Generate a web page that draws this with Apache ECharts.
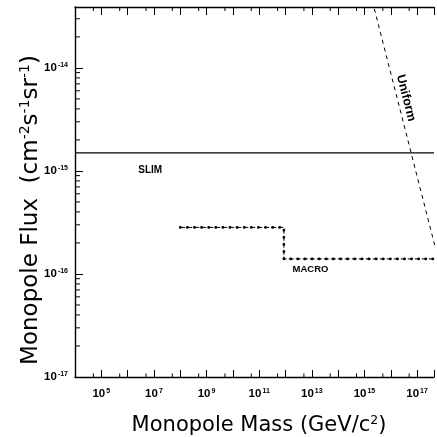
<!DOCTYPE html>
<html><head><meta charset="utf-8">
<script src="https://cdn.jsdelivr.net/npm/echarts@6/dist/echarts.min.js"></script>
<style>html,body{margin:0;padding:0;background:#fff}#c{width:437px;height:437px}</style>
</head><body><div id="c"></div>
<script>
// axis ranges
const xMin = 1e4, xMax = 4.4e17, yMin = 1e-17, yMax = 3.9e-14;
// tick labels (exponents of 10)
const xLabelExps = [5, 7, 9, 11, 13, 15, 17];
const yLabelExps = [-17, -16, -15, -14];
// minor tick values
const xMinorTicks = [5e4, 5e5, 5e6, 5e7, 5e8, 5e9, 5e10, 5e11, 5e12, 5e13, 5e14, 5e15, 5e16];
const yMinorTicks = [2e-17, 3e-17, 4e-17, 5e-17, 6e-17, 7e-17, 8e-17, 9e-17,
                     2e-16, 3e-16, 4e-16, 5e-16, 6e-16, 7e-16, 8e-16, 9e-16,
                     2e-15, 3e-15, 4e-15, 5e-15, 6e-15, 7e-15, 8e-15, 9e-15,
                     2e-14, 3e-14];
// series
const slimMass = [1e4, 4.4e17];
const slimFlux = [1.5e-15, 1.5e-15];
const macroMass = [1e8, 8.7e11, 8.7e11, 4.4e17];
const macroFlux = [2.83e-16, 2.83e-16, 1.4e-16, 1.4e-16];
const uniformMass = [1e15, 1e18];
const uniformFlux = [8.9e-14, 8.9e-17];
// label anchors (data coordinates)
const slimLabel = ['SLIM', 7.2e6, 1.02e-15];
const macroLabel = ['MACRO', 8.9e12, 1.12e-16];
const uniformLabel = ['Uniform', 3.8e16, 5.1e-15];

const zip = (a, b) => a.map((v, i) => [v, b[i]]);
const FONT = 'Liberation Sans, Arial, sans-serif';
const TITLEFONT = 'DejaVu Sans, sans-serif';

function expFormatter(list) {
  return function (val) {
    const e = Math.log10(val), r = Math.round(e);
    if (Math.abs(e - r) > 1e-6 || list.indexOf(r) < 0) return '';
    return '{base|10}{sup|' + r + '}';
  };
}
const labelRich = {
  base: { fontSize: 11.5, fontFamily: FONT, fontWeight: 'bold', color: '#000' },
  sup: { fontSize: 7, fontFamily: FONT, fontWeight: 'bold', color: '#000', padding: [0, 0, 5, 1] }
};

function tickSeries(data, kind, len) {
  return {
    type: 'custom', silent: true, clip: false, z: 10, animation: false,
    data: data,
    renderItem: function (params, api) {
      const p = api.coord([api.value(0), api.value(1)]);
      let s;
      if (kind === 'bottom') s = { x1: p[0], y1: p[1], x2: p[0], y2: p[1] - len };
      else if (kind === 'top') s = { x1: p[0], y1: p[1], x2: p[0], y2: p[1] + len };
      else s = { x1: p[0], y1: p[1], x2: p[0] + len, y2: p[1] };
      return { type: 'line', shape: s, style: { stroke: '#000', lineWidth: 1 } };
    }
  };
}

const chart = echarts.init(document.getElementById('c'), null, { renderer: 'canvas' });
const axisCommon = {
  type: 'log', logBase: 10,
  axisLine: { show: true, onZero: false, lineStyle: { color: '#000', width: 1.4 } },
  splitLine: { show: false },
  minorTick: { show: false }
};
chart.setOption({
  animation: false,
  backgroundColor: '#fff',
  grid: { left: 75, right: 0, top: 7, bottom: 60, containLabel: false },
  xAxis: [
    Object.assign({}, axisCommon, {
      min: xMin, max: xMax, position: 'bottom', interval: 1,
      axisTick: { show: true, inside: true, length: 7, lineStyle: { color: '#000', width: 1 } },
      axisLabel: { show: true, interval: 0, margin: 11, fontSize: 11.5, formatter: expFormatter(xLabelExps), rich: labelRich }
    }),
    Object.assign({}, axisCommon, {
      min: xMin, max: xMax, position: 'top', interval: 1,
      axisTick: { show: true, inside: true, length: 8, lineStyle: { color: '#000', width: 1 } },
      axisLabel: { show: false }
    })
  ],
  yAxis: [
    Object.assign({}, axisCommon, {
      min: yMin, max: yMax, position: 'left', interval: 1,
      axisTick: { show: true, inside: true, length: 8, lineStyle: { color: '#000', width: 1 } },
      axisLabel: { show: true, interval: 0, margin: 7, fontSize: 11.5, formatter: expFormatter(yLabelExps), rich: labelRich }
    })
  ],
  series: [
    { type: 'line', data: zip(slimMass, slimFlux), symbol: 'none', lineStyle: { color: '#000', width: 1.3 } },
    { type: 'line', data: zip(macroMass, macroFlux), symbol: 'none', lineStyle: { color: '#000', width: 1, type: [5, 2] } },
    { type: 'line', data: zip(macroMass, macroFlux), symbol: 'none', lineStyle: { color: '#000', width: 2.8, type: [0.1, 7], cap: 'round' } },
    { type: 'line', data: zip(uniformMass, uniformFlux), symbol: 'none', lineStyle: { color: '#000', width: 1, type: [4, 4] } },
    tickSeries(xMinorTicks.map(v => [v, yMin]), 'bottom', 3.5),
    tickSeries(xMinorTicks.map(v => [v, yMax]), 'top', 4),
    tickSeries(yMinorTicks.map(v => [xMin, v]), 'left', 5)
  ]
});

function px(x, y) { return chart.convertToPixel({ xAxisIndex: 0, yAxisIndex: 0 }, [x, y]); }
const ps = px(slimLabel[1], slimLabel[2]);
const pm = px(macroLabel[1], macroLabel[2]);
const pu = px(uniformLabel[1], uniformLabel[2]);
chart.setOption({
  graphic: [
    { type: 'text', x: ps[0], y: ps[1], style: { text: slimLabel[0], font: 'bold 10px ' + FONT, fill: '#000', align: 'center', verticalAlign: 'middle' } },
    { type: 'text', x: pm[0], y: pm[1], style: { text: macroLabel[0], font: 'bold 9.5px ' + FONT, fill: '#000', align: 'center', verticalAlign: 'middle' } },
    { type: 'text', x: pu[0], y: pu[1], rotation: -75.6 * Math.PI / 180, style: { text: uniformLabel[0], font: 'bold 12.5px ' + FONT, fill: '#000', align: 'center', verticalAlign: 'middle' } },
    { type: 'text', x: 259, y: 426, style: {
        text: '{t|Monopole Mass (GeV/c}{s|2}{t|)}', align: 'center', verticalAlign: 'middle',
        rich: { t: { fontSize: 21, fontFamily: TITLEFONT, fill: '#000' }, s: { fontSize: 12.5, fontFamily: TITLEFONT, fill: '#000', padding: [0, 0, 10, 0] } } } },
    { type: 'text', x: 31, y: 210, rotation: Math.PI / 2, style: {
        text: '{t|Monopole Flux  (cm}{s|-2}{t|s}{s|-1}{t|sr}{s|-1}{t|)}', align: 'center', verticalAlign: 'middle',
        rich: { t: { fontSize: 23, fontFamily: TITLEFONT, fill: '#000' }, s: { fontSize: 14, fontFamily: TITLEFONT, fill: '#000', padding: [0, 0, 11, 0] } } } }
  ]
});
</script></body></html>
